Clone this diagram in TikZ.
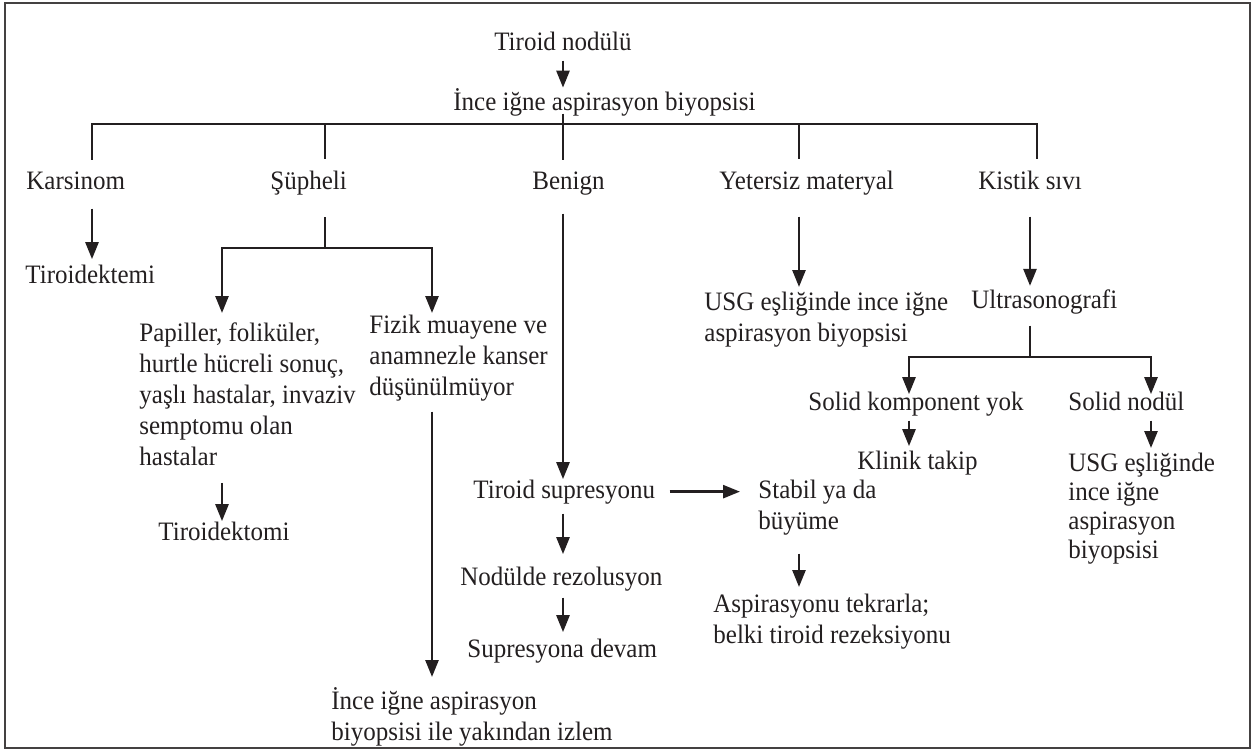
\documentclass[tikz,border=0pt]{standalone}
\usepackage{fontspec}
\setmainfont{Liberation Serif}[FakeStretch=0.94]
\usetikzlibrary{arrows.meta}
\definecolor{ink}{RGB}{35,31,32}
\begin{document}
\begin{tikzpicture}[x=0.5pt,y=-0.5pt,
  txt/.style={inner sep=0pt, font=\fontsize{13.3}{15.5}\selectfont, align=left, text=ink},
  ln/.style={line width=1.3pt, draw=ink},
  arr/.style={ln, -{Triangle[length=8.5pt,width=6.5pt]}},
  arrtwo/.style={ln, {Triangle[length=8.5pt,width=6.5pt]}-{Triangle[length=8.5pt,width=6.5pt]}},
]
\useasboundingbox (0,0) rectangle (1254,752);
\draw[line width=1.3pt, draw=ink!85] (5,3) rectangle (1250,748);

% nodes
\node[txt,anchor=base] (tn) at (563,50) {Tiroid nodülü};
\node[txt,anchor=base west] (ince) at (453,110) {İnce iğne aspirasyon biyopsisi};
\node[txt,anchor=base west] (kars) at (26,189) {Karsinom};
\node[txt,anchor=base west] (sup) at (270,189) {Şüpheli};
\node[txt,anchor=base west] (ben) at (532,189) {Benign};
\node[txt,anchor=base west] (yet) at (719,189) {Yetersiz materyal};
\node[txt,anchor=base west] (kis) at (978,189) {Kistik sıvı};
\node[txt,anchor=base west] (tiro1) at (25,283) {Tiroidektemi};
\node[txt,anchor=north west] (pap) at (139,322) {Papiller, foliküler,\\hurtle hücreli sonuç,\\yaşlı hastalar, invaziv\\semptomu olan\\hastalar};
\node[txt,anchor=north west] (fiz) at (369,315) {Fizik muayene ve\\anamnezle kanser\\düşünülmüyor};
\node[txt,anchor=base west] (tiro2) at (158,540) {Tiroidektomi};
\node[txt,anchor=north west] (ince2) at (331,687) {İnce iğne aspirasyon\\biyopsisi ile yakından izlem};
\node[txt,anchor=base west] (tsup) at (473,498) {Tiroid supresyonu};
\node[txt,anchor=base west] (nod) at (460,585) {Nodülde rezolusyon};
\node[txt,anchor=base west] (supd) at (467,657) {Supresyona devam};
\node[txt,anchor=north west] (usg1) at (704,292) {USG eşliğinde ince iğne\\aspirasyon biyopsisi};
\node[txt,anchor=base west] (ultra) at (971,308) {Ultrasonografi};
\node[txt,anchor=base west] (skp) at (808,410) {Solid komponent yok};
\node[txt,anchor=base west] (sn) at (1068,410) {Solid nodül};
\node[txt,anchor=base west] (kt) at (857,469) {Klinik takip};
\node[txt,anchor=north west,font=\fontsize{13.3}{14.5}\selectfont] (usg2) at (1068,453) {USG eşliğinde\\ince iğne\\aspirasyon\\biyopsisi};
\node[txt,anchor=north west] (stab) at (758,480) {Stabil ya da\\büyüme};
\node[txt,anchor=north west] (asp) at (713,594) {Aspirasyonu tekrarla;\\belki tiroid rezeksiyonu};

% junctions
\coordinate (cA) at (92,124);
\coordinate (cS) at (325,124);
\coordinate (cB) at (563,124);
\coordinate (cY) at (799,124);
\coordinate (cK) at (1037,124);
\coordinate (sL) at (222,248);
\coordinate (sM) at (325,248);
\coordinate (sR) at (432,248);
\coordinate (uL) at (909,357);
\coordinate (uM) at (1030,357);
\coordinate (uR) at (1151,357);

% connectors
\draw[arr,shorten <=5pt,shorten >=0pt] (tn.south) -- (tn.south |- ince.north);
\draw[ln,shorten <=-1.25pt,shorten >=5.5pt] (ince.south -| cB) -- (ben.north -| cB);
\draw[ln,shorten <=5.5pt,shorten >=5.5pt] (kars.north -| cA) -- (cA) -- (cK) -- (kis.north -| cK);
\draw[ln,shorten >=5.5pt] (cS) -- (sup.north -| cS);
\draw[ln,shorten >=5.5pt] (cY) -- (yet.north -| cY);
\draw[arr,shorten <=9.5pt,shorten >=2.5pt] (kars.south -| cA) -- (tiro1.north -| cA);
\draw[ln,shorten <=11pt] (sup.south -| sM) -- (sM);
\draw[arrtwo,shorten <=4.5pt,shorten >=1pt] (pap.north -| sL) |- (sM) -| (fiz.north -| sR);
\draw[arr,shorten <=8.5pt,shorten >=0pt] (pap.south -| sL) -- (tiro2.north -| sL);
\draw[arr,shorten <=4.75pt,shorten >=5pt] (fiz.south -| sR) -- (ince2.north -| sR);
\draw[arr,shorten <=9.25pt] (ben.south -| cB) -- (tsup.north -| cB);
\draw[arr,shorten <=4.75pt,shorten >=6pt] (tsup.south -| cB) -- (nod.north -| cB);
\draw[arr,shorten <=3.25pt,shorten >=3pt] (nod.south -| cB) -- (supd.north -| cB);
\draw[arr,shorten <=7pt,shorten >=9pt] (tsup.east) -- (tsup.east -| stab.west);
\draw[arr,shorten <=10.75pt,shorten >=2.5pt] (yet.south -| cY) -- (usg1.north -| cY);
\draw[arr,shorten <=13.5pt,shorten >=1.5pt] (kis.south -| uM) -- (ultra.north -| uM);
\draw[ln,shorten <=5.75pt] (ultra.south -| uM) -- (uM);
\draw[arrtwo,shorten <=-1.5pt,shorten >=-1.5pt] (skp.north -| uL) |- (uM) -| (sn.north -| uR);
\draw[arr,shorten <=2.25pt,shorten >=2pt] (skp.south -| uL) -- (kt.north -| uL);
\draw[arr,shorten <=5pt,shorten >=2.5pt] (sn.south -| uR) -- (usg2.north -| uR);
\draw[arr,shorten <=8.75pt,shorten >=3.5pt] (stab.south -| cY) -- (asp.north -| cY);
\end{tikzpicture}
\end{document}
